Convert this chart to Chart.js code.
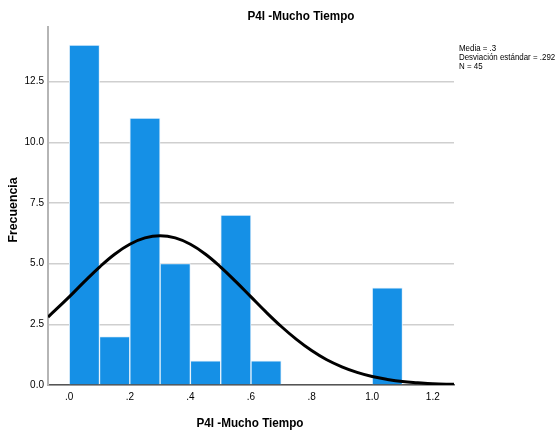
<!DOCTYPE html>
<html>
<head>
<meta charset="utf-8">
<script src="https://cdn.jsdelivr.net/npm/chart.js@4.4.1/dist/chart.umd.min.js"></script>
<style>
  html, body { margin: 0; padding: 0; background: #fff; }
  #wrap { width: 555px; height: 436px; }
</style>
</head>
<body>
<div id="wrap"><canvas id="c" width="555" height="436"></canvas></div>
<script>
// histogram bins (centre of each 0.1 wide bin) and counts
const binCenters = [0.05, 0.15, 0.25, 0.35, 0.45, 0.55, 0.65, 0.75, 0.85, 0.95, 1.05];
const binCounts  = [14, 2, 11, 5, 1, 7, 1, 0, 0, 0, 4];

// normal curve
const curveX = [-0.07, 0.0, 0.05, 0.1, 0.15, 0.2, 0.25, 0.3, 0.35, 0.4, 0.45, 0.5, 0.55, 0.6, 0.65,
                0.7, 0.75, 0.8, 0.85, 0.9, 0.95, 1.0, 1.05, 1.1, 1.15, 1.2, 1.27];
const curveY = [2.8, 3.63, 4.26, 4.86, 5.39, 5.8, 6.06, 6.15, 6.06, 5.8, 5.39, 4.86, 4.26, 3.63, 3.0,
                2.41, 1.88, 1.42, 1.04, 0.75, 0.52, 0.35, 0.23, 0.14, 0.09, 0.05, 0.03];

const yTicks = [0, 2.5, 5, 7.5, 10, 12.5];
const xTicks = [0, 0.2, 0.4, 0.6, 0.8, 1.0, 1.2];

const titleText = 'P4I -Mucho Tiempo';
const yTitle = 'Frecuencia';
const statsLines = ['Media = .3', 'Desviación estándar = .292', 'N = 45'];

const FONT = '"Liberation Sans", Arial, sans-serif';

const textPlugin = {
  id: 'texts',
  afterDraw(chart) {
    const ctx = chart.ctx;
    ctx.save();
    ctx.fillStyle = '#000';
    ctx.textBaseline = 'middle';
    ctx.textAlign = 'center';
    // main title
    ctx.font = 'bold 13px ' + FONT;
    ctx.save();
    ctx.translate(301, 16);
    ctx.scale(0.9, 1);
    ctx.fillText(titleText, 0, 0);
    ctx.restore();
    // x title
    ctx.save();
    ctx.translate(250, 423);
    ctx.scale(0.9, 1);
    ctx.fillText(titleText, 0, 0);
    ctx.restore();
    // y title
    ctx.save();
    ctx.translate(13, 210);
    ctx.rotate(-Math.PI / 2);
    ctx.scale(0.95, 1);
    ctx.fillText(yTitle, 0, 0);
    ctx.restore();
    // stats box
    ctx.textAlign = 'left';
    ctx.font = '9px ' + FONT;
    statsLines.forEach((s, i) => {
      ctx.save();
      ctx.translate(459, 49 + i * 9);
      ctx.scale(0.88, 1);
      ctx.fillText(s, 0, 0);
      ctx.restore();
    });
    ctx.restore();
  }
};

new Chart(document.getElementById('c'), {
  data: {
    datasets: [
      {
        type: 'line',
        data: curveX.map((x, i) => ({ x: x, y: curveY[i] })),
        borderColor: '#000',
        borderWidth: 3,
        pointRadius: 0,
        tension: 0.4,
        fill: false,
        order: 0
      },
      {
        type: 'bar',
        data: binCenters.map((x, i) => ({ x: x, y: binCounts[i] })),
        backgroundColor: '#1590e6',
        borderColor: '#e6f2fc',
        borderWidth: 1,
        borderSkipped: 'bottom',
        barPercentage: 1,
        categoryPercentage: 1,
        order: 1
      }
    ]
  },
  options: {
    responsive: false,
    animation: false,
    layout: { padding: { left: 0, right: 101, top: 27, bottom: 0 } },
    plugins: { legend: { display: false }, tooltip: { enabled: false } },
    scales: {
      x: {
        type: 'linear',
        min: -0.07,
        max: 1.27,
        offset: false,
        afterBuildTicks(scale) { scale.ticks = xTicks.map(v => ({ value: v })); },
        afterFit(scale) { scale.height = 51; },
        ticks: {
          color: '#000',
          font: { family: FONT, size: 10 },
          padding: 6,
          maxRotation: 0,
          callback: v => v >= 1 ? v.toFixed(1) : v.toFixed(1).replace(/^0/, '')
        },
        grid: { display: false, drawTicks: false, offset: false },
        border: { display: true, color: '#555', width: 1.5 }
      },
      y: {
        type: 'linear',
        min: 0,
        max: 14.75,
        afterBuildTicks(scale) { scale.ticks = yTicks.map(v => ({ value: v })); },
        afterFit(scale) { scale.width = 48; },
        ticks: {
          color: '#000',
          font: { family: FONT, size: 10 },
          padding: 4,
          callback: v => v.toFixed(1)
        },
        grid: { color: '#cfcfcf', lineWidth: 1.5, drawTicks: false },
        border: { display: true, color: '#b5b5b5', width: 2 }
      }
    }
  },
  plugins: [textPlugin]
});
</script>
</body>
</html>
